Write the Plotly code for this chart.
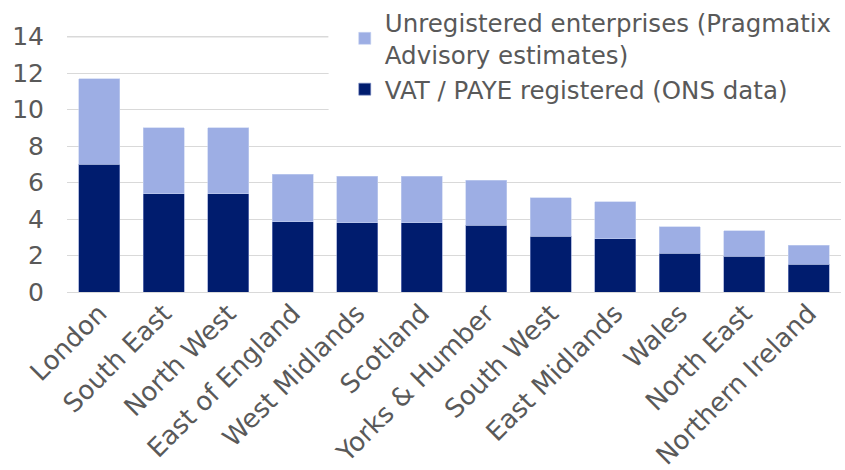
import plotly.graph_objects as go

regions = ["London", "South East", "North West", "East of England", "West Midlands",
           "Scotland", "Yorks & Humber", "South West", "East Midlands", "Wales",
           "North East", "Northern Ireland"]
registered = [7.0, 5.4, 5.4, 3.85, 3.8, 3.8, 3.65, 3.06, 2.93, 2.12, 1.97, 1.51]
unregistered = [4.7, 3.62, 3.62, 2.6, 2.55, 2.55, 2.48, 2.1, 2.03, 1.45, 1.38, 1.06]
y_ticks = [0, 2, 4, 6, 8, 10, 12, 14]

name_reg = "VAT / PAYE registered (ONS data)"
name_unreg = "Unregistered enterprises (Pragmatix<br>Advisory estimates)"

FONT = "DejaVu Sans"
GREY = "#595959"
GRID = "#d9d9d9"

fig = go.Figure()
fig.add_trace(go.Bar(x=regions, y=registered, name=name_reg,
                     marker=dict(color="#001C6E", line=dict(color="#8090c8", width=0.6))))
fig.add_trace(go.Bar(x=regions, y=unregistered, name=name_unreg,
                     marker=dict(color="#9DAEE4", line=dict(color="#c5d0f0", width=0.6))))

# white box behind the legend hiding the gridlines
fig.add_shape(type="rect", xref="paper", yref="paper", x0=0.338, x1=1.01, y0=0.64, y1=1.2,
              fillcolor="white", line=dict(width=0), layer="above")
# top gridline (left of the legend)
fig.add_shape(type="line", xref="paper", yref="y", x0=0, x1=0.338,
              y0=y_ticks[-1], y1=y_ticks[-1], line=dict(color=GRID, width=1.3), layer="below")

fig.update_layout(
    width=845, height=470,
    margin=dict(l=67, r=4, t=36, b=178, autoexpand=False),
    barmode="stack", bargap=0.365,
    plot_bgcolor="white", paper_bgcolor="white",
    font=dict(family=FONT, size=25, color=GREY),
    showlegend=True,
    legend=dict(x=0.408, y=1.0, xref="container", yref="container",
                xanchor="left", yanchor="top",
                traceorder="reversed", bgcolor="rgba(0,0,0,0)",
                font=dict(family=FONT, size=24.5, color=GREY),
                itemwidth=30, tracegroupgap=0),
    xaxis=dict(tickangle=-45, showgrid=False, showline=False, ticks="", automargin=False,
               tickfont=dict(family=FONT, size=26, color=GREY)),
    yaxis=dict(range=[0, 14.04], tickvals=y_ticks, showgrid=True, gridcolor=GRID,
               gridwidth=1.3, zeroline=True, zerolinecolor=GRID, zerolinewidth=1.3,
               ticks="", ticklabelstandoff=22, automargin=False,
               tickfont=dict(family=FONT, size=25, color=GREY)),
)

fig.write_html("out.html", config={"displayModeBar": False},
               post_script="document.body.style.margin='0';")
